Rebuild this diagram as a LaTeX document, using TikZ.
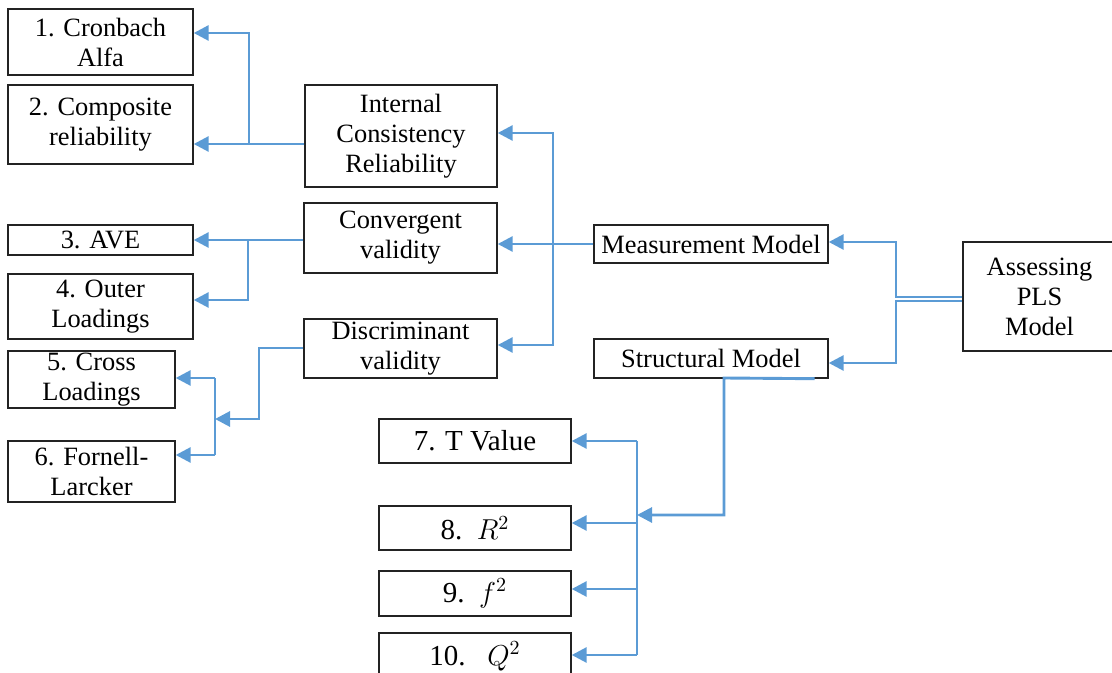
\documentclass[tikz,border=0pt]{standalone}
\usepackage{fontspec}
\setmainfont{Liberation Serif}
\usepackage{xcolor}
\usepackage{tikz}
\usetikzlibrary{arrows.meta,calc,positioning}
\definecolor{LinkBlue}{RGB}{91,155,213}
\definecolor{BoxGray}{RGB}{35,35,35}

\begin{document}
\begin{tikzpicture}[x=0.5pt,y=-0.5pt, >={Triangle[length=7.5pt,width=7.5pt]},
	   every node/.style={font=\fontsize{13.2}{15}\selectfont},
	   testbox/.style 2 args = {rectangle, draw=BoxGray, line width=0.7pt,
	                            inner sep=0pt, align=center,
	                            minimum width=#1, minimum height=#2},
	   bigtext/.style = {font=\fontsize{14.5}{17}\selectfont},
	   link/.style = {LinkBlue, line width=1.45pt},
	   thinlink/.style = {LinkBlue, line width=0.9pt}]
	\useasboundingbox (0,0) rectangle (1112,673);
	\clip (0,0) rectangle (1112,673);

	%% Reliability and validity tests
	\node [testbox={92.5pt}{33pt}] (cronbach) at (100.5,42) {1. Cronbach\\Alfa};
	\node [testbox={92.5pt}{39.5pt}] (composite) at (100.5,124.5) {2. Composite\\reliability};
	\node [testbox={92.5pt}{15pt}] (ave) at (100.5,240) {3. AVE};
	\node [testbox={92.5pt}{32.5pt}] (outer) at (100.5,306.5) {4. Outer\\Loadings};
	\node [testbox={83.5pt}{28.5pt}] (cross) at (91.5,379.5) {5. Cross\\Loadings};
	\node [testbox={83.5pt}{30.5pt}] (fornell) at (91.5,471.5) {6. Fornell-\\Larcker};

	%% Criteria
	\node [testbox={96pt}{51pt}] (icr) at (401,136) {Internal\\Consistency\\Reliability};
	\node [testbox={96.5pt}{35pt}] (convergent) at (400.5,238) {Convergent\\validity};
	\node [testbox={96.5pt}{29.5pt}] (discriminant) at (400.5,348.5) {Discriminant\\validity};

	%% Models
	\node [testbox={117pt}{19pt}] (measurement) at (711,244) {Measurement Model};
	\node [testbox={117pt}{19.5pt}] (structural) at (711,358.5) {Structural Model};
	\node [testbox={76.5pt}{54.5pt}] (assessing) at (1039.5,296.5) {Assessing\\PLS\\Model};

	%% Structural tests
	\node [testbox={96pt}{22pt},bigtext] (tvalue) at (475,441) {7. T Value};
	\node [testbox={96pt}{22pt},bigtext] (rsq) at (475,528) {8.\ \ $R^2$};
	\node [testbox={96pt}{22.5pt},bigtext] (fsq) at (475,593.5) {9.\ \ $f^2$};
	\node [testbox={96pt}{23.5pt},bigtext] (qsq) at (475,656.5) {10.\ \ \ $Q^2$};

	%% Split points
	\coordinate (icrsplit) at (249,144);
	\coordinate (cvsplit) at (248,240);
	\coordinate (mspine) at (553,244);
	\coordinate (dvsplit) at (215,419);
	\coordinate (smsplit) at (637,515);

	%% Assessing to models
	\draw[link,->] (assessing.west |- 0,297) -| (896,242) -- (measurement.east |- 0,242);
	\draw[link,->] (assessing.west |- 0,301) -| (896,363) -- (structural.east |- 0,363);

	%% Measurement model
	\draw[link,->] (measurement.west) -- (convergent.east |- measurement.west);
	\draw[link,->] (mspine) |- (icr.east |- 0,133);
	\draw[link,->] (mspine) |- (discriminant.east |- 0,345);

	\draw[link,->] (icr.west |- 0,144) -- (composite.east |- 0,144);
	\draw[link,->] (icrsplit) |- (cronbach.east |- 0,33);

	\draw[link,->] (convergent.west |- ave.east) -- (ave.east);
	\draw[link,->] (cvsplit) |- (outer.east |- 0,300);

	\draw[link,->] (discriminant.west |- 0,348) -| (259,419) -- (dvsplit);
	\draw[thinlink] (dvsplit |- 0,378) -- (dvsplit |- 0,455);
	\draw[link,->] (dvsplit |- 0,378) -- (cross.east |- 0,378);
	\draw[link,->] (dvsplit |- 0,455) -- (fornell.east |- 0,455);

	%% Structural model
	\draw[link,->] ([xshift=-7pt]structural.south east) -- (724,378) |- (smsplit);
	\draw[thinlink] (smsplit |- tvalue.east) -- (smsplit |- 0,655);
	\draw[link,->] (smsplit |- tvalue.east) -- (tvalue.east);
	\draw[link,->] (smsplit |- 0,523) -- (rsq.east |- 0,523);
	\draw[link,->] (smsplit |- 0,589) -- (fsq.east |- 0,589);
	\draw[link,->] (smsplit |- 0,655) -- (qsq.east |- 0,655);
\end{tikzpicture}
\end{document}
